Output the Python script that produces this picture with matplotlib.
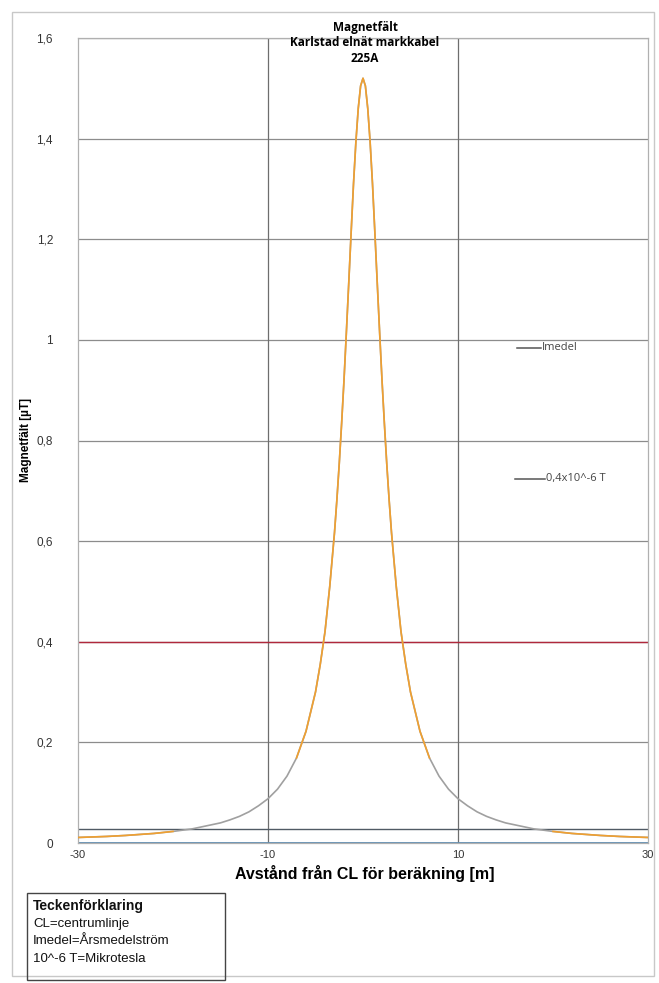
import matplotlib
matplotlib.use("Agg")
import matplotlib.pyplot as plt
from matplotlib.lines import Line2D
from matplotlib.patches import Rectangle
import numpy as np

# ---- data ----
dist_m = [-30, -27, -25, -22, -20, -18, -17, -16, -15, -14, -13, -12, -11, -10, -9, -8, -7,
          -6, -5, -4.5, -4, -3.5, -3, -2.75, -2.5, -2.25, -2, -1.75, -1.5, -1.25, -1,
          -0.75, -0.5, -0.25, 0,
          0.25, 0.5, 0.75, 1, 1.25, 1.5, 1.75, 2, 2.25, 2.5, 2.75, 3, 3.5, 4, 4.5, 5, 6,
          7, 8, 9, 10, 11, 12, 13, 14, 15, 16, 17, 18, 20, 22, 25, 27, 30]
field_uT = [0.011, 0.013, 0.015, 0.019, 0.023, 0.028, 0.032, 0.036, 0.040, 0.046, 0.053,
            0.062, 0.074, 0.088, 0.107, 0.133, 0.169,
            0.222, 0.300, 0.355, 0.420, 0.510, 0.617, 0.682, 0.754, 0.834, 0.920, 1.015,
            1.113, 1.213, 1.310, 1.393, 1.460, 1.505, 1.520,
            1.505, 1.460, 1.393, 1.310, 1.213, 1.113, 1.015, 0.920, 0.834, 0.754, 0.682,
            0.617, 0.510, 0.420, 0.355, 0.300, 0.222,
            0.169, 0.133, 0.107, 0.088, 0.074, 0.062, 0.053, 0.046, 0.040, 0.036, 0.032,
            0.028, 0.023, 0.019, 0.015, 0.013, 0.011]
limit_uT = 0.4
imedel_level = 0.028
x_ticks = [-30, -10, 10, 30]
y_ticks = [0, 0.2, 0.4, 0.6, 0.8, 1.0, 1.2, 1.4, 1.6]
y_tick_labels = ["0", "0,2", "0,4", "0,6", "0,8", "1", "1,2", "1,4", "1,6"]
title_lines = ["Magnetfält", "Karlstad elnät markkabel", "225A"]
legend_texts = ["Imedel", "0,4x10^-6 T"]
key_lines = ["Teckenförklaring", "CL=centrumlinje", "Imedel=Årsmedelström", "10^-6 T=Mikrotesla"]

plt.rcParams['font.family'] = ['Liberation Sans', 'DejaVu Sans']

W, H = 659, 983
fig = plt.figure(figsize=(W / 100, H / 100), dpi=100)
fig.patch.set_facecolor("white")

# outer frame
fig.add_artist(Rectangle((12 / W, 1 - 976 / H), (654 - 12) / W, (976 - 12) / H,
                         transform=fig.transFigure, fill=False, edgecolor="#c8c8c8", lw=1.0))

ax = fig.add_axes([78 / W, 1 - 843 / H, (648 - 78) / W, (843 - 38) / H])
ax.set_xlim(-30, 30)
ax.set_ylim(0, 1.6)

# grid
for yv in y_ticks[1:]:
    ax.axhline(yv, color="#8c8c8c", lw=0.9, zorder=1)
for xv in x_ticks[1:-1]:
    ax.axvline(xv, color="#6e6e6e", lw=0.9, zorder=1)

x = np.array(dist_m)
y = np.array(field_uT)
# grey curve underneath, orange on top where it reads orange
ax.plot(x, y, color="#a0a0a0", lw=1.2, zorder=3)
y_or = np.where((np.abs(x) > 7.5) & (np.abs(x) < 19), np.nan, y)
ax.plot(x, y_or, color="#f0a030", lw=1.2, zorder=4)

ax.axhline(limit_uT, color="#b0283c", lw=1.0, zorder=2)
ax.axhline(imedel_level, color="#505a64", lw=1.0, zorder=2)
ax.axhline(0, color="#5a8ab0", lw=1.3, zorder=2)

for s in ax.spines.values():
    s.set_color("#b0b0b0")
    s.set_linewidth(0.9)

ax.set_xticks(x_ticks)
ax.set_xticklabels([str(v) for v in x_ticks], fontsize=8, color="#333333")
ax.set_yticks(y_ticks)
ax.set_yticklabels(y_tick_labels, fontsize=8.5, color="#333333")
ax.tick_params(axis="y", length=0, pad=18)
ax.tick_params(axis="x", length=0, pad=5)

fig.text(365 / W, 1 - 874 / H, "Avstånd från CL för beräkning [m]", ha="center",
         va="center", fontsize=11.5, fontweight="bold")
fig.text(26 / W, 1 - 440 / H, "Magnetfält [µT]", ha="center", va="center",
         rotation=90, fontsize=8.5, fontweight="bold")

# title (multi-line, centred)
for i, t in enumerate(title_lines):
    fig.text(365 / W, 1 - (27 + 16 * i) / H, t, ha="center", va="center",
             fontsize=8.5, fontweight="bold", family=["Open Sans", "DejaVu Sans"],
             zorder=10)

# series legend entries
leg_y = [348, 479]
leg_x0 = [517, 515]
leg_x1 = [541, 545]
for i, t in enumerate(legend_texts):
    fig.add_artist(Line2D([leg_x0[i] / W, leg_x1[i] / W], [1 - leg_y[i] / H] * 2,
                          transform=fig.transFigure, color="#555555", lw=1.1))
    fig.text((leg_x1[i] + 1) / W, 1 - leg_y[i] / H, t, ha="left", va="center",
             fontsize=8, color="#444444", family=["Open Sans", "DejaVu Sans"])

# key box
fig.add_artist(Rectangle((27 / W, 1 - 980 / H), (225 - 27) / W, (980 - 893) / H,
                         transform=fig.transFigure, fill=False, edgecolor="#444444", lw=1.0))
for i, t in enumerate(key_lines):
    fig.text(33 / W, 1 - (906 + 17.5 * i) / H, t, ha="left", va="center",
             fontsize=10 if i == 0 else 9.5,
             fontweight="bold" if i == 0 else "normal", color="#111111")

fig.savefig("out.png", dpi=100)
